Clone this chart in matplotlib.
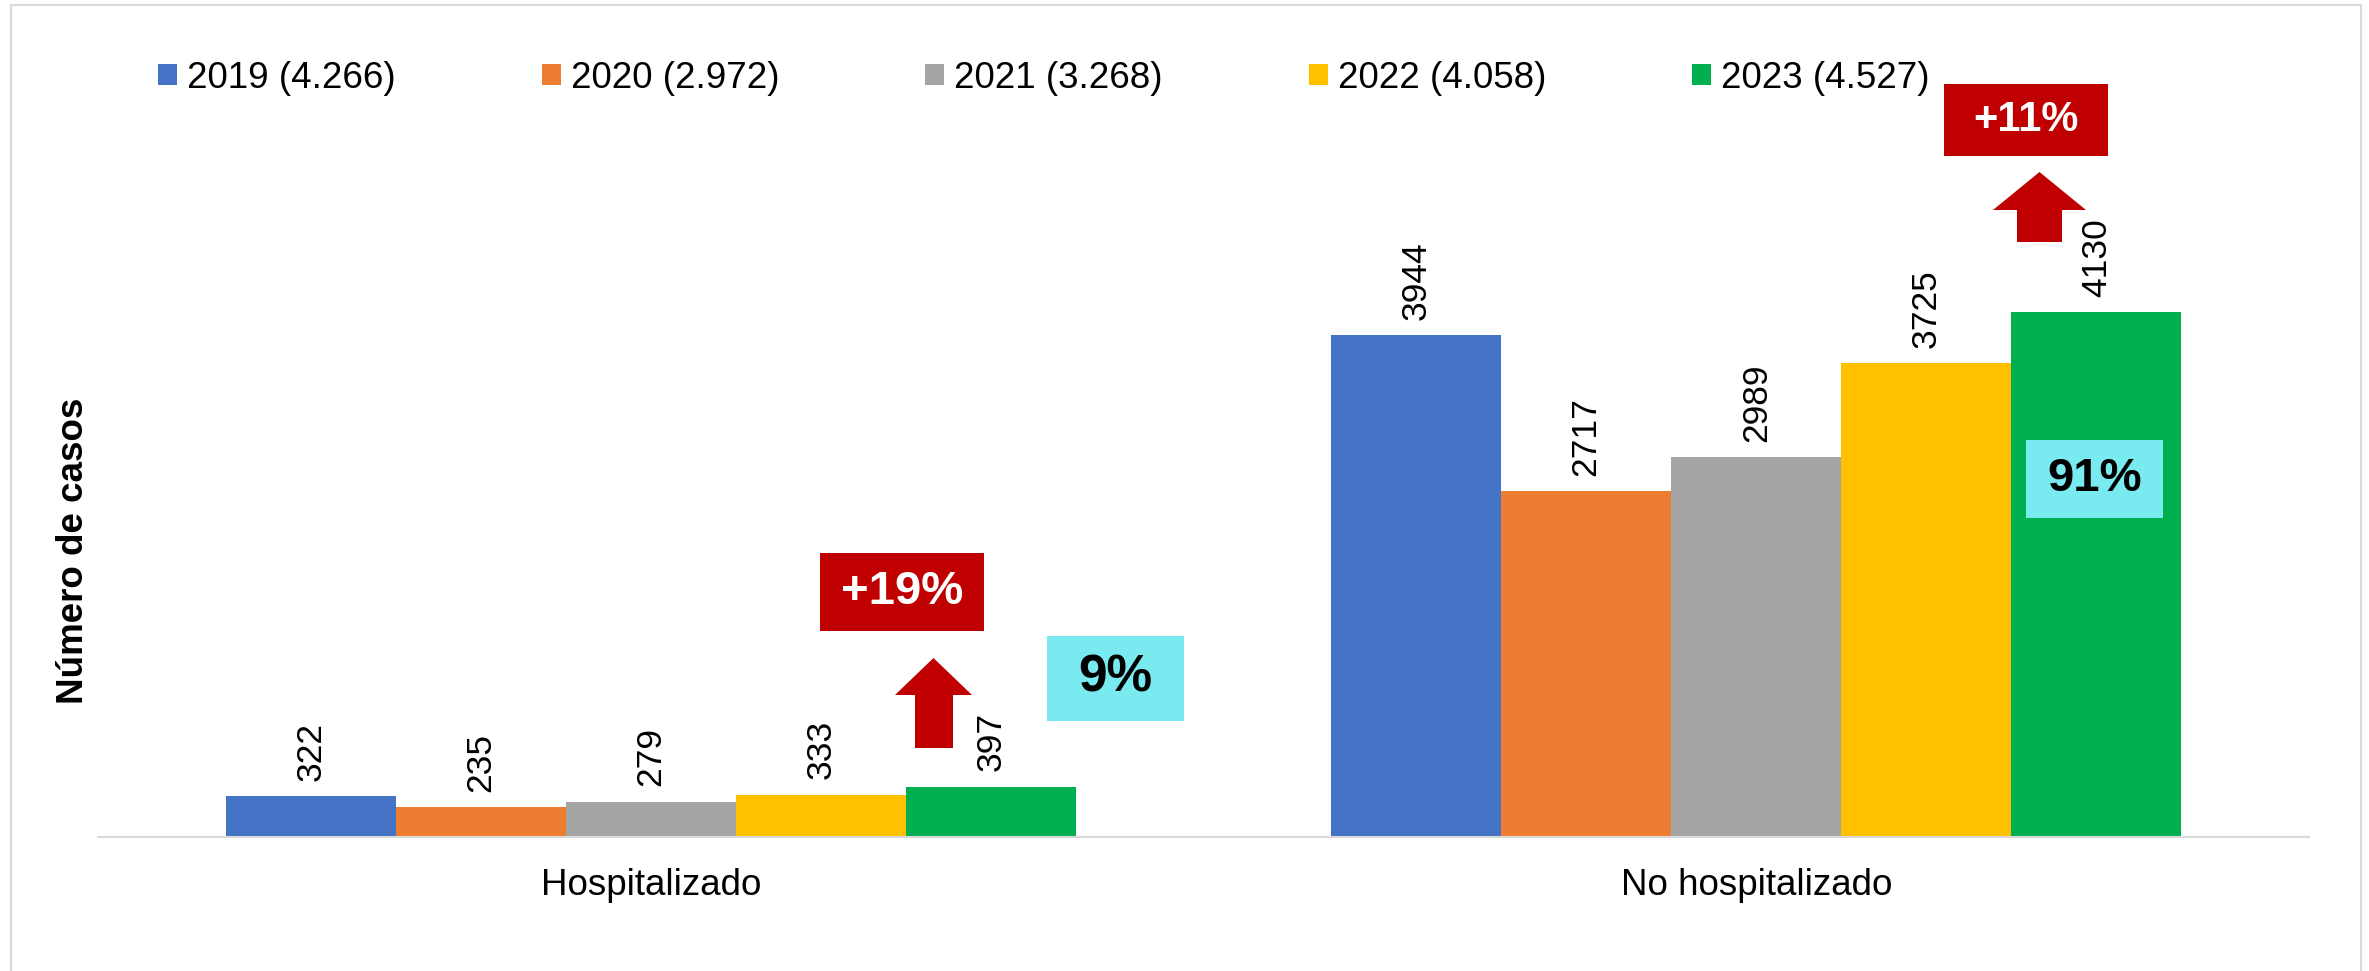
import numpy as np
import matplotlib
matplotlib.use("Agg")
import matplotlib.pyplot as plt
from matplotlib.patches import Rectangle, Polygon

plt.rcParams['font.family'] = ['Liberation Sans', 'DejaVu Sans']

categories = ["Hospitalizado", "No hospitalizado"]
years = ["2019", "2020", "2021", "2022", "2023"]
totals = ["4.266", "2.972", "3.268", "4.058", "4.527"]
values = {
    "2019": [322, 3944],
    "2020": [235, 2717],
    "2021": [279, 2989],
    "2022": [333, 3725],
    "2023": [397, 4130],
}
colors = ["#4472C4", "#ED7D31", "#A5A5A5", "#FFC000", "#00B050"]

W, H = 2369, 971
fig = plt.figure(figsize=(W / 100, H / 100), dpi=100)

def fx(x):
    return x / W

def fy(y):
    return 1 - y / H

ax = fig.add_axes([fx(98), fy(837), (2309 - 98) / W, 763 / H])

x = np.arange(len(categories))
bw = 0.1538
handles = []
for i, yr in enumerate(years):
    bars = ax.bar(x + (i - 2) * bw, values[yr], width=bw, color=colors[i],
                  label=f"{yr} ({totals[i]})", zorder=2)
    handles.append(bars)
    for rect, v in zip(bars, values[yr]):
        ax.annotate(str(v), (rect.get_x() + rect.get_width() / 2, rect.get_height()),
                    xytext=(0, 11), textcoords="offset points", rotation=90,
                    ha="center", va="bottom", fontsize=25.5, color="black")

ax.set_xlim(-0.5, 1.5)
ax.set_ylim(0, 6000)
ax.set_xticks(x)
ax.set_xticklabels(categories, fontsize=26.5)
ax.tick_params(axis="x", length=0, pad=22)
ax.set_yticks([])
for s in ["top", "right", "left"]:
    ax.spines[s].set_visible(False)
ax.spines["bottom"].set_color("#D9D9D9")
ax.spines["bottom"].set_linewidth(1.5)

leg = fig.legend(handles=handles, loc="center left",
                 bbox_to_anchor=(fx(158), fy(78)), bbox_transform=fig.transFigure,
                 ncol=5, frameon=False, fontsize=26.5, borderpad=0, borderaxespad=0,
                 handlelength=0.516, handleheight=0.49, handletextpad=0.27,
                 columnspacing=3.97)

fig.text(fx(74), fy(551), "Número de casos", rotation=90, ha="center", va="center",
         fontsize=26.5, fontweight="bold")

def box(x0, y0, x1, y1, color, text, tcolor, size):
    fig.patches.append(Rectangle((fx(x0), fy(y1)), fx(x1) - fx(x0), fy(y0) - fy(y1),
                                 transform=fig.transFigure, facecolor=color,
                                 edgecolor="none", zorder=5))
    fig.text(fx((x0 + x1) / 2), fy((y0 + y1) / 2), text, ha="center", va="center",
             color=tcolor, fontsize=size, fontweight="bold", zorder=6)

def arrow(tipx, tipy, hx0, hx1, hy, sx0, sx1, sy, color):
    pts = [(tipx, tipy), (hx1, hy), (sx1, hy), (sx1, sy), (sx0, sy), (sx0, hy), (hx0, hy)]
    fig.patches.append(Polygon([(fx(a), fy(b)) for a, b in pts], closed=True,
                               transform=fig.transFigure, facecolor=color,
                               edgecolor="none", zorder=5))

red = "#C00000"
cyan = "#78EAF0"
box(820, 553, 984, 631, red, "+19%", "white", 34)
arrow(933.5, 658, 895, 972, 695, 915, 953, 748, red)
box(1047, 636, 1184, 721, cyan, "9%", "black", 37)

box(1944, 84, 2108, 156, red, "+11%", "white", 30)
arrow(2039.5, 172, 1993, 2086, 210, 2017, 2062, 242, red)
box(2026, 440, 2163, 518, cyan, "91%", "black", 34)

fig.patches.append(Rectangle((fx(11), fy(975)), fx(2361) - fx(11), fy(5) - fy(975),
                             transform=fig.transFigure, facecolor="none",
                             edgecolor="#D9D9D9", linewidth=1.5, zorder=0))

fig.savefig("out.png", dpi=100)
